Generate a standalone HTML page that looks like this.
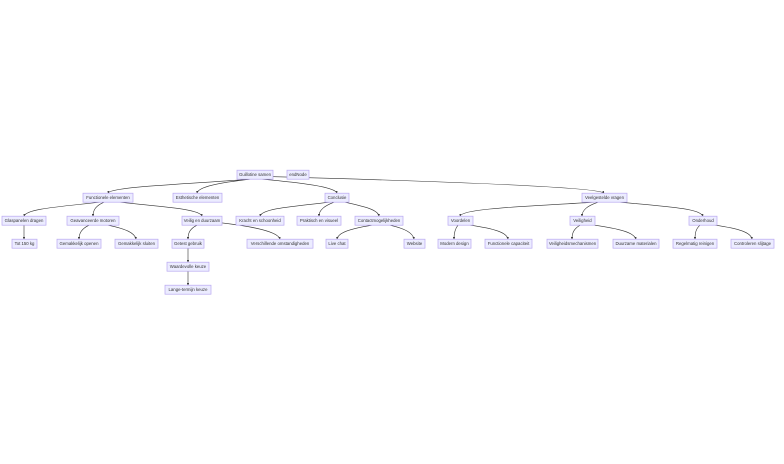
<!DOCTYPE html>
<html><head><meta charset="utf-8"><style>
html,body{margin:0;padding:0;background:#fff;width:784px;height:464px;overflow:hidden}
svg text{font-family:"Liberation Sans",sans-serif;font-size:4.3px;fill:#333;text-anchor:middle;dominant-baseline:central}
rect{fill:#ECECFF;stroke:#b9a8f0;stroke-width:0.7}
path{fill:none;stroke:#333;stroke-width:0.6}
</style></head><body>
<svg width="784" height="464" viewBox="0 0 784 464" xmlns="http://www.w3.org/2000/svg">
<defs><marker id="a" viewBox="0 0 10 10" refX="9" refY="5" markerWidth="4" markerHeight="4" orient="auto"><path d="M0,0L10,5L0,10z" style="fill:#333;stroke:none"/></marker></defs>
<g transform="translate(0,0.7)">
<g marker-end="url(#a)">
<path d="M250,178.5 C180,184 110,186 108,192.5"/>
<path d="M250,178.5 C220,182 198,186 197,192.5"/>
<path d="M262,178.5 C300,182 335,186 337,192.5"/>
<path d="M273,176 C420,180 600,186 604,192.5"/>
<path d="M100,201.5 C60,206 26,208 24,215.5"/>
<path d="M104,201.5 C96,205 93,209 93,215.5"/>
<path d="M120,201.5 C160,206 200,208 202,215.5"/>
<path d="M24,224.5 L24,238.5"/>
<path d="M89,224.5 C82,228 79,232 79,238.5"/>
<path d="M108,224.5 C125,228 135,232 136,238.5"/>
<path d="M197,224.5 C190,228 188,232 188,238.5"/>
<path d="M220,222 C255,226 278,231 280,238.5"/>
<path d="M188,247.5 L188,261.5"/>
<path d="M188,270.5 L188,284.5"/>
<path d="M330,201.5 C290,206 262,208 260,215.5"/>
<path d="M334,201.5 C325,205 319,209 319,215.5"/>
<path d="M345,201.5 C365,206 378,209 379,215.5"/>
<path d="M372,224.5 C350,228 338,232 337,238.5"/>
<path d="M390,224.5 C405,228 413,232 414,238.5"/>
<path d="M595,201.5 C520,206 462,208 460,215.5"/>
<path d="M598,201.5 C588,205 582,209 582,215.5"/>
<path d="M620,201.5 C670,206 700,208 703,215.5"/>
<path d="M458,224.5 C455,228 454,232 454,238.5"/>
<path d="M470,224.5 C495,228 507,232 508,238.5"/>
<path d="M580,224.5 C574,228 572,232 572,238.5"/>
<path d="M594,224.5 C620,228 634,232 636,238.5"/>
<path d="M700,224.5 C696,228 695,232 695,238.5"/>
<path d="M715,224.5 C740,228 751,232 752,238.5"/>
</g>
<g>
<rect x="237" y="169.5" width="36" height="9"/><text x="255" y="174">Guillotine samen</text>
<rect x="287" y="169.5" width="22" height="9"/><text x="298" y="174">endNode</text>
<rect x="83" y="192.5" width="50" height="9"/><text x="108" y="197">Functionele elementen</text>
<rect x="173" y="192.5" width="49" height="9"/><text x="197.5" y="197">Esthetische elementen</text>
<rect x="325" y="192.5" width="24" height="9"/><text x="337" y="197">Conclusie</text>
<rect x="582" y="192.5" width="45" height="9"/><text x="604.5" y="197">Veelgestelde vragen</text>
<rect x="2" y="215.5" width="44" height="9"/><text x="24" y="220">Glaspanelen dragen</text>
<rect x="67" y="215.5" width="52" height="9"/><text x="93" y="220">Geavanceerde motoren</text>
<rect x="182" y="215.5" width="40" height="9"/><text x="202" y="220">Veilig en duurzaam</text>
<rect x="236" y="215.5" width="48" height="9"/><text x="260" y="220">Kracht en schoonheid</text>
<rect x="297" y="215.5" width="44" height="9"/><text x="319" y="220">Praktisch en visueel</text>
<rect x="355" y="215.5" width="48" height="9"/><text x="379" y="220">Contactmogelijkheden</text>
<rect x="448" y="215.5" width="25" height="9"/><text x="460.5" y="220">Voordelen</text>
<rect x="570" y="215.5" width="25" height="9"/><text x="582.5" y="220">Veiligheid</text>
<rect x="689" y="215.5" width="28" height="9"/><text x="703" y="220">Onderhoud</text>
<rect x="12" y="238.5" width="25" height="9"/><text x="24.5" y="243">Tot 150 kg</text>
<rect x="57" y="238.5" width="44" height="9"/><text x="79" y="243">Gemakkelijk openen</text>
<rect x="115" y="238.5" width="43" height="9"/><text x="136.5" y="243">Gemakkelijk sluiten</text>
<rect x="172" y="238.5" width="32" height="9"/><text x="188" y="243">Getest gebruik</text>
<rect x="247" y="238.5" width="66" height="9"/><text x="280" y="243">Verschillende omstandigheden</text>
<rect x="326" y="238.5" width="22" height="9"/><text x="337" y="243">Live chat</text>
<rect x="404" y="238.5" width="21" height="9"/><text x="414.5" y="243">Website</text>
<rect x="438" y="238.5" width="33" height="9"/><text x="454.5" y="243">Modern design</text>
<rect x="485" y="238.5" width="47" height="9"/><text x="508.5" y="243">Functionele capaciteit</text>
<rect x="547" y="238.5" width="51" height="9"/><text x="572.5" y="243">Veiligheidsmechanismen</text>
<rect x="613" y="238.5" width="46" height="9"/><text x="636" y="243">Duurzame materialen</text>
<rect x="673" y="238.5" width="44" height="9"/><text x="695" y="243">Regelmatig reinigen</text>
<rect x="731" y="238.5" width="43" height="9"/><text x="752.5" y="243">Controleren slijtage</text>
<rect x="167" y="261.5" width="42" height="9"/><text x="188" y="266">Waardevolle keuze</text>
<rect x="165" y="284.5" width="46" height="9"/><text x="188" y="289">Lange-termijn keuze</text>
</g>
</g>
</svg>
</body></html>
